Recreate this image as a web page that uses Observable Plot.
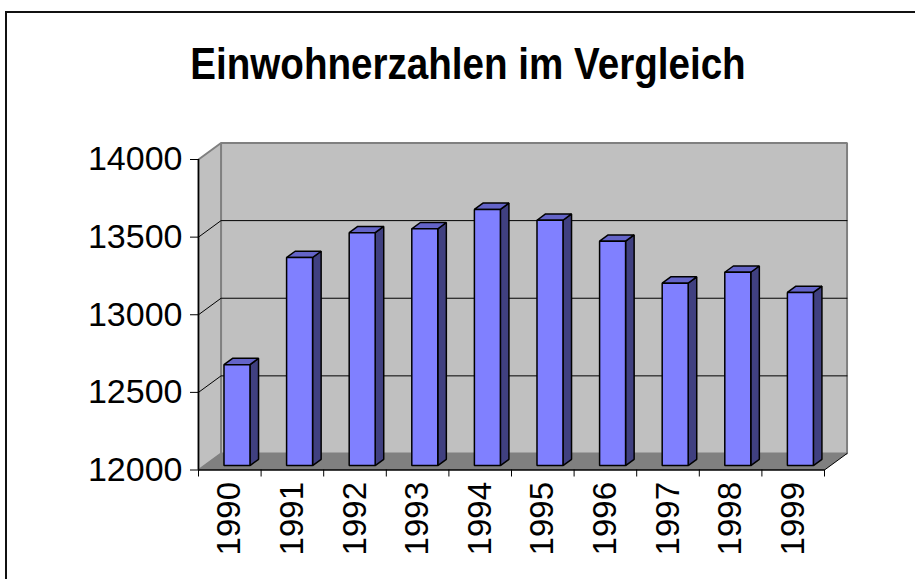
<!DOCTYPE html>
<html><head><meta charset="utf-8">
<script src="https://cdn.jsdelivr.net/npm/d3@7"></script>
<script src="https://cdn.jsdelivr.net/npm/@observablehq/plot@0.6"></script>
<style>
body{margin:0;background:#fff;}
#wrap{position:relative;width:915px;height:579px;overflow:hidden;font-family:"Liberation Sans",Arial,sans-serif;}
#chart{position:absolute;left:0;top:0;}
#border{position:absolute;left:5px;top:11px;width:1000px;height:1000px;border-left:2px solid #111;border-top:2px solid #111;}
#title{position:absolute;left:468px;top:42px;font-size:44px;font-weight:bold;line-height:44px;white-space:nowrap;transform:translateX(-50%) scaleX(0.877);color:#000;}
</style></head>
<body><div id="wrap"><div id="chart"></div><div id="border"></div><div id="title">Einwohnerzahlen im Vergleich</div></div>
<script>
// ---- data ----
const years = [1990, 1991, 1992, 1993, 1994, 1995, 1996, 1997, 1998, 1999];
const population = [12650, 13340, 13500, 13525, 13650, 13580, 13445, 13175, 13245, 13115];
const yTicks = [12000, 12500, 13000, 13500, 14000];
const gridValues = [12500, 13000, 13500];

// ---- oblique 3D projection in data units ----
const Y0 = 12000, Y1 = 14000;
const X0 = years[0] - 0.5, X1 = years[years.length - 1] + 0.5;
const DEPTH_X = 0.36, DEPTH_Y = 106.3;
const P = (x, y, d) => ({x: x + d * DEPTH_X, y: y + d * DEPTH_Y});
const poly = (id, pts) => pts.map(p => ({...p, id}));

const backWall = poly("back", [P(X0,Y0,1), P(X1,Y0,1), P(X1,Y1,1), P(X0,Y1,1)]);
const leftWall = poly("left", [P(X0,Y0,0), P(X0,Y1,0), P(X0,Y1,1), P(X0,Y0,1)]);
const floor = poly("floor", [P(X0,Y0,0), P(X1,Y0,0), P(X1,Y0,1), P(X0,Y0,1)]);
const grid = gridValues.flatMap(g => poly(g, [P(X0,g,0), P(X0,g,1), P(X1,g,1)]));
const floorEdge = poly("fe", [P(X1,Y0,0), P(X1,Y0,1)]);

const F0 = 0.27, F1 = 0.65, BL = -0.19, BR = 0.225;
const fronts = years.flatMap((yr, i) => { const v = population[i];
  return poly(yr, [P(yr+BL,Y0,F0), P(yr+BR,Y0,F0), P(yr+BR,v,F0), P(yr+BL,v,F0)]); });
const sides = years.flatMap((yr, i) => { const v = population[i];
  return poly(yr, [P(yr+BR,Y0,F0), P(yr+BR,Y0,F1), P(yr+BR,v,F1), P(yr+BR,v,F0)]); });
const tops = years.flatMap((yr, i) => { const v = population[i];
  return poly(yr, [P(yr+BL,v,F0), P(yr+BR,v,F0), P(yr+BR,v,F1), P(yr+BL,v,F1)]); });

const boundaries = years.map(y => y - 0.5).concat([X1]);
const closed = {x: "x", y: "y", z: "id", curve: "linear-closed", strokeLinejoin: "miter"};

const chart = Plot.plot({
  width: 915, height: 579,
  marginLeft: 198, marginRight: 91, marginTop: 159, marginBottom: 109.5,
  style: {fontFamily: "'Liberation Sans', Arial, sans-serif", background: "transparent", color: "#000"},
  x: {type: "linear", domain: [X0, X1], axis: null},
  y: {type: "linear", domain: [Y0, Y1], axis: null},
  marks: [
    Plot.line(backWall, {...closed, fill: "#c0c0c0", stroke: "#808080", strokeWidth: 2}),
    Plot.line(leftWall, {...closed, fill: "#c0c0c0", stroke: "#808080", strokeWidth: 2}),
    Plot.line(floor, {...closed, fill: "#808080", stroke: "none"}),
    Plot.line(grid, {x: "x", y: "y", z: "id", stroke: "#000", strokeWidth: 1}),
    Plot.line(floorEdge, {x: "x", y: "y", z: "id", stroke: "#000", strokeWidth: 1}),
    Plot.ruleX([X0], {y1: Y0, y2: Y1, stroke: "#000", strokeWidth: 1.5}),
    Plot.ruleY([Y0], {x1: X0, x2: X1, stroke: "#000", strokeWidth: 1.5}),
    Plot.line(sides, {...closed, fill: "#404080", stroke: "#000", strokeWidth: 1.5}),
    Plot.line(tops, {...closed, fill: "#6464c8", stroke: "#000", strokeWidth: 1.5}),
    Plot.line(fronts, {...closed, fill: "#8080ff", stroke: "#000", strokeWidth: 1.5}),
    Plot.axisY({ticks: yTicks, tickSize: 8, tickPadding: 8, fontSize: 34, tickFormat: d3.format("d"), label: null, stroke: "#000"}),
    Plot.axisX({ticks: boundaries, tickSize: 7, tickFormat: () => "", label: null, stroke: "#000"}),
    Plot.axisX({ticks: years, tickSize: 0, tickPadding: 12, tickRotate: -90, fontSize: 33, tickFormat: d3.format("d"), label: null})
  ]
});
document.getElementById("chart").appendChild(chart);
</script>
</body></html>
